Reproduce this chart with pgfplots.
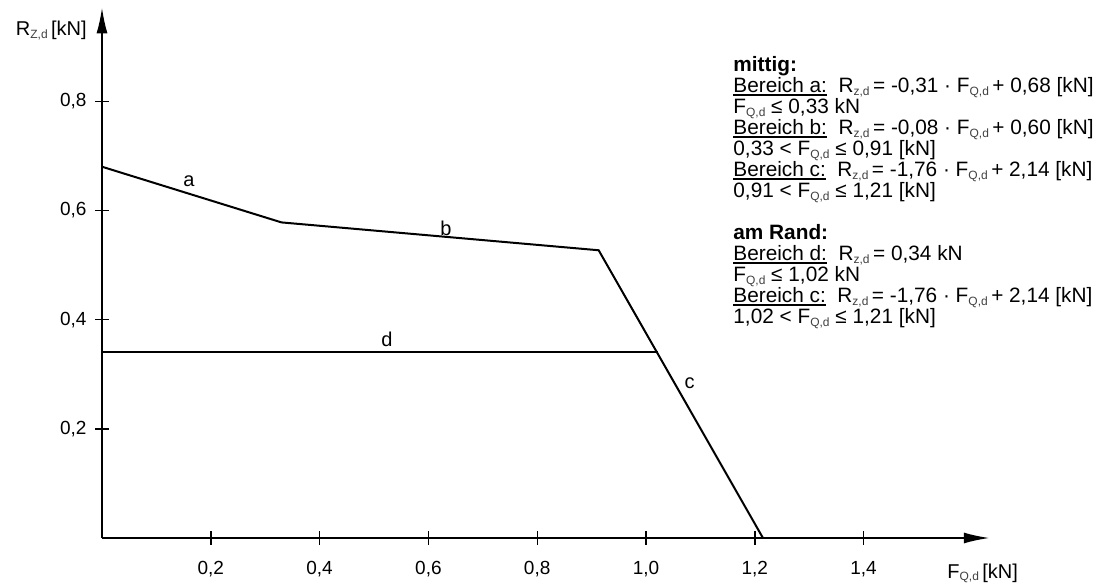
\documentclass[border=0pt]{standalone}
\usepackage{fontspec}
\setmainfont{Liberation Sans}
\usepackage{pgfplots}
\pgfplotsset{compat=1.18}
\usetikzlibrary{arrows.meta}

% kleine graue Indizes wie im Original
\newcommand{\sub}[1]{\raisebox{-0.25ex}{\fontsize{6bp}{6bp}\selectfont\color{black!75}#1}}
% enge Unterstreichung
\newcommand{\ul}[1]{\vtop{\hbox{#1}\kern0.6bp\hrule height0.7bp}}
\tikzset{achse/.style={line width=1bp, -{Latex[length=13bp,width=5.5bp]}}}

\begin{document}
\begin{tikzpicture}[font=\fontsize{10bp}{10.5bp}\selectfont]
\useasboundingbox (-51bp,-23bp) rectangle (501.5bp,269bp);
\begin{axis}[
  at={(0,0)}, anchor=origin,
  x=272bp, y=273bp,
  xmin=0, xmax=1.632, ymin=0, ymax=0.972,
  axis line style={draw=none},
  tick pos=left,
  xtick={0.2,0.4,0.6,0.8,1.0,1.2,1.4},
  ytick={0.2,0.4,0.6,0.8},
  tick align=center, major tick length=6.5bp,
  tick style={draw=black, line width=0.7bp},
  /pgf/number format/.cd, use comma, fixed, fixed zerofill, precision=1, assume math mode=true,
  /pgfplots/.cd,
  ticklabel style={font=\fontsize{9.5bp}{10bp}\selectfont},
  xticklabel style={yshift=-5bp},
  yticklabel style={xshift=-1bp},
  clip=false,
]
\addplot[black, line width=1bp] coordinates {(0,0.68) (0.33,0.578) (0.913,0.527) (1.215,0)};
\addplot[black, line width=1bp] coordinates {(0,0.34) (1.022,0.34)};
\draw[achse] (axis cs:0,0) -- (axis cs:1.632,0);
\draw[achse] (axis cs:0,0) -- (axis cs:0,0.972);
\node at (axis cs:0.16,0.654) {a};
\node at (axis cs:0.632,0.568) {b};
\node at (axis cs:1.08,0.284) {c};
\node at (axis cs:0.524,0.363) {d};
\end{axis}

\node[anchor=base east, inner sep=0] at (-7.5bp,251bp) {R\sub{Z,d}\,[kN]};
\node[anchor=base west, inner sep=0] at (422.5bp,-20bp) {F\sub{Q,d}\,[kN]};

\begin{scope}[every node/.style={anchor=base west, inner sep=0, font=\fontsize{10.4bp}{10.5bp}\selectfont}]
\node at (315.5bp,233bp)   {\textbf{mittig:}};
\node at (315.5bp,222.5bp) {\ul{Bereich a:}\ \ R\sub{z,d}\,= -0,31 · F\sub{Q,d}\,+ 0,68 [kN]};
\node at (315.5bp,212bp)   {F\sub{Q,d} ≤ 0,33 kN};
\node at (315.5bp,201.5bp) {\ul{Bereich b:}\ \ R\sub{z,d}\,= -0,08 · F\sub{Q,d}\,+ 0,60 [kN]};
\node at (315.5bp,191bp)   {0,33 < F\sub{Q,d} ≤ 0,91 [kN]};
\node at (315.5bp,180.5bp) {\ul{Bereich c:}\ \ R\sub{z,d}\,= -1,76 · F\sub{Q,d}\,+ 2,14 [kN]};
\node at (315.5bp,170bp)   {0,91 < F\sub{Q,d} ≤ 1,21 [kN]};
\node at (315.5bp,149bp)   {\textbf{am Rand:}};
\node at (315.5bp,138.5bp) {\ul{Bereich d:}\ \ R\sub{z,d}\,= 0,34 kN};
\node at (315.5bp,128bp)   {F\sub{Q,d} ≤ 1,02 kN};
\node at (315.5bp,117.5bp) {\ul{Bereich c:}\ \ R\sub{z,d}\,= -1,76 · F\sub{Q,d}\,+ 2,14 [kN]};
\node at (315.5bp,107bp)   {1,02 < F\sub{Q,d} ≤ 1,21 [kN]};
\end{scope}
\end{tikzpicture}
\end{document}
